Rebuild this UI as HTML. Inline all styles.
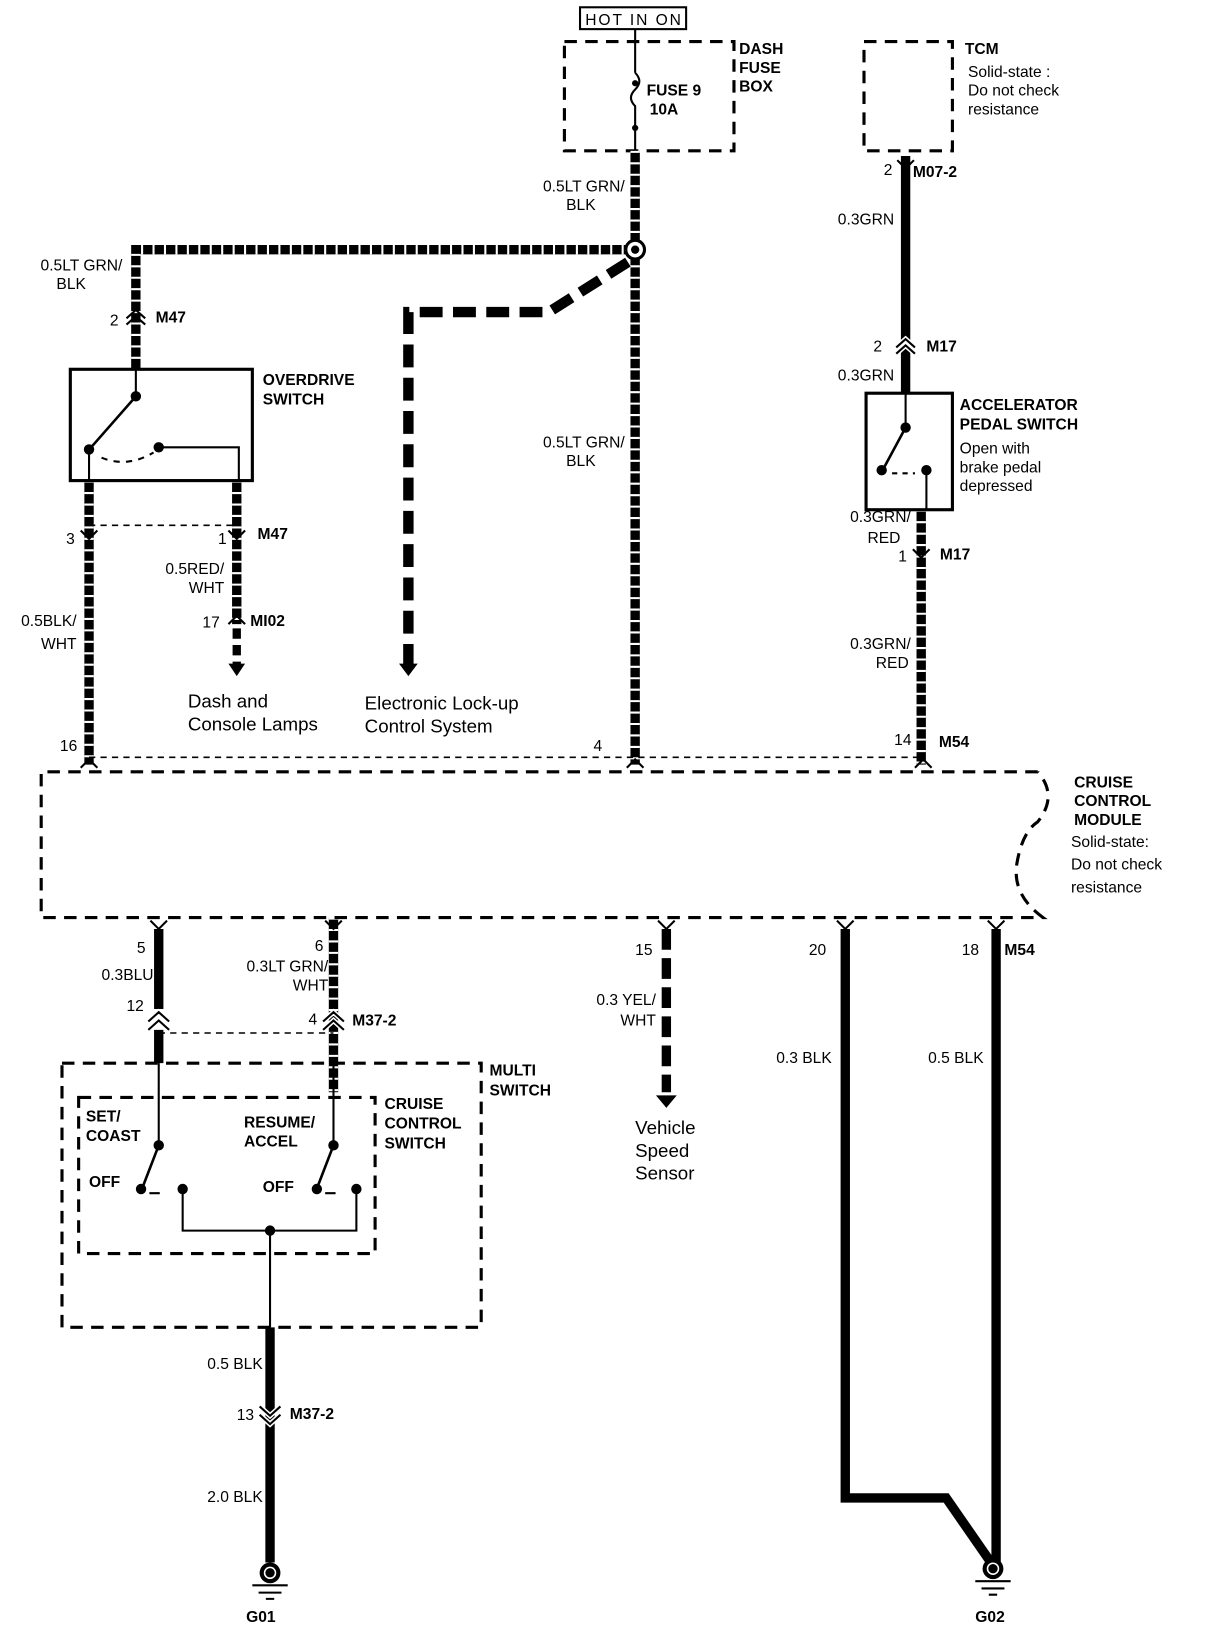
<!DOCTYPE html>
<html><head><meta charset="utf-8"><style>
html,body{margin:0;padding:0;background:#fff;}
svg{display:block;}
text{font-family:"Liberation Sans",sans-serif;fill:#000;}
.b{font-weight:bold;font-size:15px;}
.n{font-size:15px;}
.l{font-size:18px;}
</style></head><body>
<svg width="1216" height="1628" viewBox="2.4 0 1169 1565" preserveAspectRatio="none" xmlns="http://www.w3.org/2000/svg">
<defs>
<g id="hat"></g>
</defs>
<!-- HOT IN ON -->
<rect x="560" y="7" width="102" height="21" fill="none" stroke="#000" stroke-width="2"/>
<text x="565" y="24" class="n" textLength="92">HOT IN ON</text>
<!-- dash fuse box -->
<rect x="545" y="40" width="163" height="105" fill="none" stroke="#000" stroke-width="3" stroke-dasharray="12,8"/>
<line x1="613" y1="28" x2="613" y2="70" stroke="#000" stroke-width="2"/>
<path d="M613 70 q8 8 0 16 q-8 8 0 16 v20" fill="none" stroke="#000" stroke-width="2"/>
<line x1="613" y1="120" x2="613" y2="145" stroke="#000" stroke-width="2"/>
<circle cx="613" cy="80" r="3"/><circle cx="613" cy="123" r="3"/>
<text x="624" y="92" class="b">FUSE 9</text><text x="627" y="110" class="b">10A</text>
<text x="713" y="52" class="b">DASH</text><text x="713" y="70" class="b">FUSE</text><text x="713" y="88" class="b">BOX</text>
<!-- hatched wires -->
<g fill="none" stroke-linecap="butt">
<path d="M613 145 V735 M613 240 H133 V355 M88 462 V735 M230 462 V600 M888 490 V735 M323 882 V1050" stroke="#000" stroke-width="9"/>
<path d="M613 145 V735 M613 240 H133 V355 M88 462 V735 M230 462 V600 M888 490 V735 M323 882 V1050" stroke="#fff" stroke-width="9" stroke-dasharray="2,9"/>
</g>
<circle cx="613" cy="240" r="9" fill="#fff" stroke="#000" stroke-width="3"/>
<circle cx="613" cy="240" r="4"/>
<text x="603" y="184" class="n" text-anchor="end">0.5LT GRN/</text><text x="575" y="202" class="n" text-anchor="end">BLK</text>
<text x="603" y="430" class="n" text-anchor="end">0.5LT GRN/</text><text x="575" y="448" class="n" text-anchor="end">BLK</text>
<text x="120" y="260" class="n" text-anchor="end">0.5LT GRN/</text><text x="85" y="278" class="n" text-anchor="end">BLK</text>
<!-- connector M47 top -->
<path d="M124 306 l9 -8 l9 8 M124 312 l9 -8 l9 8" fill="none" stroke="#000" stroke-width="2"/>
<text x="108" y="313" class="n">2</text><text x="152" y="310" class="b">M47</text>
<!-- overdrive switch -->
<rect x="70" y="355" width="175" height="107" fill="none" stroke="#000" stroke-width="3"/>
<text x="255" y="370" class="b">OVERDRIVE</text><text x="255" y="389" class="b">SWITCH</text>
<line x1="133" y1="355" x2="133" y2="380" stroke="#000" stroke-width="2"/>
<circle cx="133" cy="381" r="5"/>
<line x1="133" y1="381" x2="90" y2="430" stroke="#000" stroke-width="2.5"/>
<circle cx="88" cy="432" r="5"/><circle cx="155" cy="430" r="5"/>
<path d="M100 440 q25 10 50 -5" fill="none" stroke="#000" stroke-width="2" stroke-dasharray="6,6"/>
<path d="M155 430 H232 V462 M88 432 V462" fill="none" stroke="#000" stroke-width="2"/>
<!-- M47 bottom -->
<line x1="88" y1="505" x2="230" y2="505" stroke="#000" stroke-width="1.5" stroke-dasharray="6,5"/>
<path d="M80 510 l8 8 l8 -8 M222 510 l8 8 l8 -8" fill="none" stroke="#000" stroke-width="2"/>
<text x="66" y="523" class="n">3</text><text x="212" y="523" class="n">1</text><text x="250" y="518" class="b">M47</text>
<text x="218" y="552" class="n" text-anchor="end">0.5RED/</text><text x="218" y="570" class="n" text-anchor="end">WHT</text>
<text x="76" y="602" class="n" text-anchor="end">0.5BLK/</text><text x="76" y="624" class="n" text-anchor="end">WHT</text>
<path d="M222 600 l8 -8 l8 8" fill="none" stroke="#000" stroke-width="2"/>
<text x="197" y="603" class="n">17</text><text x="243" y="602" class="b">MI02</text>
<line x1="230" y1="604" x2="230" y2="640" stroke="#000" stroke-width="8" stroke-dasharray="10,6"/>
<path d="M222 638 h16 l-8 12z"/>
<text x="183" y="680" class="l">Dash and</text><text x="183" y="702" class="l">Console Lamps</text>
<!-- lock-up -->
<path d="M606 252 L530 300 H395 V640" fill="none" stroke="#000" stroke-width="10" stroke-dasharray="22,10"/>
<path d="M386 638 h18 l-9 12z"/>
<text x="353" y="682" class="l">Electronic Lock-up</text><text x="353" y="704" class="l">Control System</text>
<!-- TCM -->
<rect x="833" y="40" width="85" height="105" fill="none" stroke="#000" stroke-width="3" stroke-dasharray="12,8"/>
<text x="930" y="52" class="b">TCM</text>
<text x="933" y="74" class="n">Solid-state :</text><text x="933" y="92" class="n">Do not check</text><text x="933" y="110" class="n">resistance</text>
<line x1="873" y1="150" x2="873" y2="378" stroke="#000" stroke-width="9"/>
<path d="M865 154 l8 8 l8 -8" fill="none" stroke="#000" stroke-width="2"/>
<text x="852" y="168" class="n">2</text><text x="880" y="170" class="b">M07-2</text>
<text x="862" y="216" class="n" text-anchor="end">0.3GRN</text>
<path d="M864 334 l9 -8 l9 8 M864 340 l9 -8 l9 8" fill="none" stroke="#fff" stroke-width="5"/>
<path d="M864 334 l9 -8 l9 8 M864 340 l9 -8 l9 8" fill="none" stroke="#000" stroke-width="2"/>
<text x="842" y="338" class="n">2</text><text x="893" y="338" class="b">M17</text>
<text x="862" y="366" class="n" text-anchor="end">0.3GRN</text>
<!-- accelerator -->
<rect x="835" y="378" width="83" height="112" fill="none" stroke="#000" stroke-width="3"/>
<text x="925" y="394" class="b">ACCELERATOR</text><text x="925" y="413" class="b">PEDAL SWITCH</text>
<text x="925" y="436" class="n">Open with</text><text x="925" y="454" class="n">brake pedal</text><text x="925" y="472" class="n">depressed</text>
<line x1="873" y1="378" x2="873" y2="410" stroke="#000" stroke-width="2"/>
<circle cx="873" cy="411" r="5"/>
<line x1="873" y1="411" x2="852" y2="450" stroke="#000" stroke-width="2.5"/>
<circle cx="850" cy="452" r="5"/><circle cx="893" cy="452" r="5"/>
<line x1="860" y1="455" x2="882" y2="455" stroke="#000" stroke-width="2" stroke-dasharray="5,5"/>
<path d="M893 452 V490" stroke="#000" stroke-width="2"/>
<text x="878" y="502" class="n" text-anchor="end">0.3GRN/</text><text x="868" y="522" class="n" text-anchor="end">RED</text>
<path d="M880 528 l8 8 l8 -8" fill="none" stroke="#000" stroke-width="2"/>
<text x="866" y="540" class="n">1</text><text x="906" y="538" class="b">M17</text>
<text x="878" y="624" class="n" text-anchor="end">0.3GRN/</text><text x="876" y="642" class="n" text-anchor="end">RED</text>
<!-- module -->
<line x1="88" y1="728" x2="890" y2="728" stroke="#000" stroke-width="1.5" stroke-dasharray="6,5"/>
<path d="M1000 742 H42 V882 H1005 Q975 860 980 830 Q985 800 1000 790 Q1020 765 1000 742" fill="none" stroke="#000" stroke-width="3" stroke-dasharray="12,8"/>
<path d="M80 738 l8 -8 l8 8 M605 738 l8 -8 l8 8 M882 738 l8 -8 l8 8" fill="none" stroke="#000" stroke-width="2"/>
<text x="60" y="722" class="n">16</text><text x="573" y="722" class="n">4</text>
<text x="862" y="716" class="n">14</text><text x="905" y="718" class="b">M54</text>
<text x="1035" y="757" class="b">CRUISE</text><text x="1035" y="775" class="b">CONTROL</text><text x="1035" y="793" class="b">MODULE</text>
<text x="1032" y="814" class="n">Solid-state:</text><text x="1032" y="836" class="n">Do not check</text><text x="1032" y="858" class="n">resistance</text>
<!-- bottom pins -->
<path d="M147 885 l8 8 l8 -8 M315 885 l8 8 l8 -8 M635 885 l8 8 l8 -8 M807 885 l8 8 l8 -8 M952 885 l8 8 l8 -8" fill="none" stroke="#000" stroke-width="2"/>
<text x="134" y="916" class="n">5</text><text x="305" y="914" class="n">6</text>
<text x="613" y="918" class="n">15</text><text x="780" y="918" class="n">20</text>
<text x="927" y="918" class="n">18</text><text x="968" y="918" class="b">M54</text>
<line x1="155" y1="893" x2="155" y2="970" stroke="#000" stroke-width="9"/>
<line x1="155" y1="990" x2="155" y2="1022" stroke="#000" stroke-width="9"/>
<text x="150" y="942" class="n" text-anchor="end">0.3BLU</text>
<text x="318" y="934" class="n" text-anchor="end">0.3LT GRN/</text><text x="318" y="952" class="n" text-anchor="end">WHT</text>
<line x1="155" y1="993" x2="323" y2="993" stroke="#000" stroke-width="1.5" stroke-dasharray="6,5"/>
<path d="M145 982 l10 -9 l10 9 M145 990 l10 -9 l10 9 M313 982 l10 -9 l10 9 M313 990 l10 -9 l10 9" fill="none" stroke="#fff" stroke-width="5"/>
<path d="M145 982 l10 -9 l10 9 M145 990 l10 -9 l10 9 M313 982 l10 -9 l10 9 M313 990 l10 -9 l10 9" fill="none" stroke="#000" stroke-width="2"/>
<text x="124" y="972" class="n">12</text><text x="299" y="985" class="n">4</text><text x="341" y="986" class="b">M37-2</text>
<!-- multi switch -->
<rect x="62" y="1022" width="403" height="254" fill="none" stroke="#000" stroke-width="3" stroke-dasharray="12,8"/>
<rect x="78" y="1055" width="285" height="150" fill="none" stroke="#000" stroke-width="3" stroke-dasharray="12,8"/>
<text x="473" y="1034" class="b">MULTI</text><text x="473" y="1053" class="b">SWITCH</text>
<text x="372" y="1066" class="b">CRUISE</text><text x="372" y="1085" class="b">CONTROL</text><text x="372" y="1104" class="b">SWITCH</text>
<text x="85" y="1078" class="b">SET/</text><text x="85" y="1097" class="b">COAST</text>
<text x="237" y="1084" class="b">RESUME/</text><text x="237" y="1102" class="b">ACCEL</text>
<text x="88" y="1141" class="b">OFF</text><text x="255" y="1146" class="b">OFF</text>
<path d="M155 1022 V1100 M323 1022 V1100" stroke="#000" stroke-width="2"/>
<circle cx="155" cy="1101" r="5"/><circle cx="323" cy="1101" r="5"/>
<path d="M155 1101 L140 1140 M323 1101 L308 1140" stroke="#000" stroke-width="2.5"/>
<circle cx="138" cy="1143" r="5"/><circle cx="178" cy="1143" r="5"/>
<circle cx="307" cy="1143" r="5"/><circle cx="345" cy="1143" r="5"/>
<path d="M146 1147 h10 M315 1147 h10" stroke="#000" stroke-width="2"/>
<path d="M178 1143 V1183 H345 V1143 M262 1183 V1276" fill="none" stroke="#000" stroke-width="2"/>
<circle cx="262" cy="1183" r="5"/>
<line x1="262" y1="1276" x2="262" y2="1502" stroke="#000" stroke-width="9"/>
<text x="255" y="1316" class="n" text-anchor="end">0.5 BLK</text>
<path d="M252 1352 l10 9 l10 -9 M252 1360 l10 9 l10 -9" fill="none" stroke="#fff" stroke-width="5"/>
<path d="M252 1352 l10 9 l10 -9 M252 1360 l10 9 l10 -9" fill="none" stroke="#000" stroke-width="2"/>
<text x="230" y="1365" class="n">13</text><text x="281" y="1364" class="b">M37-2</text>
<text x="255" y="1444" class="n" text-anchor="end">2.0 BLK</text>
<circle cx="262" cy="1512" r="10" fill="#000"/><circle cx="262" cy="1512" r="6" fill="#fff"/><circle cx="262" cy="1512" r="4.5"/>
<path d="M245 1524 h34 M251 1531 h22 M258 1537 h8" stroke="#000" stroke-width="2"/>
<text x="239" y="1559" class="b">G01</text>
<!-- VSS -->
<line x1="643" y1="893" x2="643" y2="1050" stroke="#000" stroke-width="9" stroke-dasharray="20,8"/>
<path d="M633 1053 h20 l-10 12z"/>
<text x="633" y="966" class="n" text-anchor="end">0.3 YEL/</text><text x="633" y="986" class="n" text-anchor="end">WHT</text>
<text x="613" y="1090" class="l">Vehicle</text><text x="613" y="1112" class="l">Speed</text><text x="613" y="1134" class="l">Sensor</text>
<!-- ground G02 -->
<path d="M815 893 V1440 H912 L955 1502 M960 893 V1502" fill="none" stroke="#000" stroke-width="9"/>
<text x="802" y="1022" class="n" text-anchor="end">0.3 BLK</text><text x="948" y="1022" class="n" text-anchor="end">0.5 BLK</text>
<circle cx="957" cy="1508" r="10" fill="#000"/><circle cx="957" cy="1508" r="6" fill="#fff"/><circle cx="957" cy="1508" r="4.5"/>
<path d="M940 1520 h34 M946 1527 h22 M953 1533 h8" stroke="#000" stroke-width="2"/>
<text x="940" y="1559" class="b">G02</text>
</svg>
</body></html>
